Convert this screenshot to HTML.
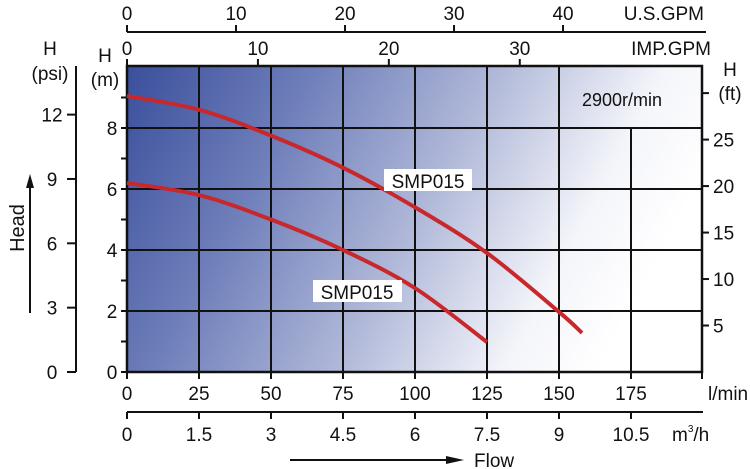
<!DOCTYPE html>
<html><head><meta charset="utf-8"><style>
body{margin:0;background:#fff;}
svg{display:block;font-family:"Liberation Sans",sans-serif;}
</style></head><body>
<svg id="chart" width="750" height="469" viewBox="0 0 750 469">
<defs>
<linearGradient id="bg" gradientUnits="userSpaceOnUse" x1="127" y1="66" x2="620" y2="330">
<stop offset="0" stop-color="#3a4f9c"/>
<stop offset="0.3" stop-color="#6f7fba"/>
<stop offset="0.6" stop-color="#b3bbda"/>
<stop offset="0.85" stop-color="#f4f5fa"/>
<stop offset="1" stop-color="#ffffff"/>
</linearGradient>
</defs>
<rect x="127" y="66" width="575" height="306" fill="url(#bg)"/>
<g id="grid"></g>
<g id="axes"></g>
<g id="curves"></g>
<g id="labels"></g>
</svg>
<script>
const flowTicks=[0,25,50,75,100,125,150,175];
const m3hTicks=[0,1.5,3,4.5,6,7.5,9,10.5];
const mTicks=[0,2,4,6,8];
const psiTicks=[0,3,6,9,12];
const ftTicks=[5,10,15,20,25];
const usTicks=[0,10,20,30,40];
const impTicks=[0,10,20,30];
const upperFlow=[0,25,50,75,100,125,150,158];
const upperHead=[9.05,8.6,7.75,6.7,5.4,3.9,1.97,1.28];
const lowerFlow=[0,25,50,75,100,125];
const lowerHead=[6.2,5.8,5.0,4.0,2.75,0.98];
const NS='http://www.w3.org/2000/svg';
const X=f=>127+f*72/25;
const Y=h=>372-h*30.5;
function el(p,t,a,txt){const e=document.createElementNS(NS,t);for(const k in a)e.setAttribute(k,a[k]);if(txt!==undefined)e.textContent=txt;p.appendChild(e);return e;}
const grid=document.getElementById('grid'),axes=document.getElementById('axes'),curves=document.getElementById('curves'),labels=document.getElementById('labels');
flowTicks.forEach(f=>{if(f===0)return;const top=f===175?Y(8):66;
const l=el(grid,'line',{x1:X(f),x2:X(f),y1:top,y2:372,stroke:'#111','stroke-width':2});

});
mTicks.forEach(h=>{if(h===0)return;
const l=el(grid,'line',{x1:127,x2:702,y1:Y(h),y2:Y(h),stroke:'#111','stroke-width':2});

});
el(axes,'path',{d:'M127,66 H702 V372 H127 Z',fill:'none',stroke:'#111','stroke-width':2.5});
for(let h=0;h<=9;h++){el(axes,'line',{x1:121,x2:127,y1:Y(h),y2:Y(h),stroke:'#111','stroke-width':2});}
mTicks.forEach(h=>{const t=el(axes,'text',{x:112,y:Y(h)+7,'font-size':19,'text-anchor':'middle',fill:'#111'},String(h));

});
el(axes,'line',{x1:76,x2:76,y1:66,y2:372,stroke:'#111','stroke-width':2});
psiTicks.forEach(p=>{const y=Y(p/1.422);el(axes,'line',{x1:67,x2:76,y1:y,y2:y,stroke:'#111','stroke-width':2});
const t=el(axes,'text',{x:52,y:y+7,'font-size':19,'text-anchor':'middle',fill:'#111'},String(p));

});
[5,10,15,20,25,30].forEach(f=>{const y=Y(f*0.3048);el(axes,'line',{x1:702,x2:709,y1:y,y2:y,stroke:'#111','stroke-width':2});});
ftTicks.forEach(f=>{const y=Y(f*0.3048);const t=el(axes,'text',{x:713,y:y+7,'font-size':19,fill:'#111'},String(f));

});
flowTicks.forEach(f=>{el(axes,'line',{x1:X(f),x2:X(f),y1:372,y2:379,stroke:'#111','stroke-width':2});
const t=el(axes,'text',{x:X(f),y:400,'font-size':19,'text-anchor':'middle',fill:'#111'},String(f));

});
el(axes,'line',{x1:702,x2:702,y1:372,y2:379,stroke:'#111','stroke-width':2});
el(axes,'line',{x1:127,x2:703,y1:412,y2:412,stroke:'#111','stroke-width':2});
m3hTicks.forEach(v=>{const x=X(v*1000/60);el(axes,'line',{x1:x,x2:x,y1:412,y2:419,stroke:'#111','stroke-width':2});
const t=el(axes,'text',{x:x,y:441,'font-size':19,'text-anchor':'middle',fill:'#111'},String(v));

});
el(axes,'line',{x1:127,x2:706,y1:32,y2:32,stroke:'#111','stroke-width':2});
usTicks.forEach(v=>{const x=X(v*3.785);el(axes,'line',{x1:x,x2:x,y1:25,y2:32,stroke:'#111','stroke-width':2});
const t=el(axes,'text',{x:x,y:20,'font-size':19,'text-anchor':'middle',fill:'#111'},String(v));

});
impTicks.forEach(v=>{const x=X(v*4.546);el(axes,'line',{x1:x,x2:x,y1:59,y2:66,stroke:'#111','stroke-width':2});
const t=el(axes,'text',{x:x,y:55,'font-size':19,'text-anchor':'middle',fill:'#111'},String(v));

});
function smooth(xs,ys){const p=xs.map((x,i)=>[X(x),Y(ys[i])]);let d='M'+p[0][0]+','+p[0][1];
for(let i=0;i<p.length-1;i++){const p0=p[i-1]||p[i],p1=p[i],p2=p[i+1],p3=p[i+2]||p2;
d+=' C'+(p1[0]+(p2[0]-p0[0])/6)+','+(p1[1]+(p2[1]-p0[1])/6)+' '+(p2[0]-(p3[0]-p1[0])/6)+','+(p2[1]-(p3[1]-p1[1])/6)+' '+p2[0]+','+p2[1];}return d;}
const c1=el(curves,'path',{d:smooth(upperFlow,upperHead),fill:'none',stroke:'#c8282c','stroke-width':4});


const c2=el(curves,'path',{d:smooth(lowerFlow,lowerHead),fill:'none',stroke:'#c8282c','stroke-width':4});


</script>
<div style="position:absolute;left:0;top:0;width:750px;height:469px;pointer-events:none">
<svg width="750" height="469" style="font-family:'Liberation Sans',sans-serif">
<rect x="384" y="169" width="88" height="22" fill="#fff"/>
<text x="428" y="188" font-size="19" text-anchor="middle" fill="#111">SMP015</text>
<rect x="313" y="280" width="89" height="22" fill="#fff"/>
<text x="357" y="299" font-size="19" text-anchor="middle" fill="#111">SMP015</text>
<text x="622" y="106" font-size="18" text-anchor="middle" fill="#111">2900r/min</text>
<text x="704" y="20" font-size="19" text-anchor="end" fill="#111">U.S.GPM</text>
<text x="711" y="55" font-size="19" text-anchor="end" fill="#111">IMP.GPM</text>
<text x="708" y="400" font-size="19" fill="#111">l/min</text>
<text x="672" y="441" font-size="19" fill="#111">m<tspan font-size="10" dy="-9">3</tspan><tspan dy="9">/h</tspan></text>
<text x="50" y="55" font-size="19" text-anchor="middle" fill="#111">H</text>
<text x="50" y="80" font-size="19" text-anchor="middle" fill="#111">(psi)</text>
<text x="105" y="62" font-size="19" text-anchor="middle" fill="#111">H</text>
<text x="105" y="86" font-size="19" text-anchor="middle" fill="#111">(m)</text>
<text x="730" y="76" font-size="19" text-anchor="middle" fill="#111">H</text>
<text x="730" y="100" font-size="19" text-anchor="middle" fill="#111">(ft)</text>
<text transform="translate(24,228) rotate(-90)" font-size="20" text-anchor="middle" fill="#111">Head</text>
<line x1="30" y1="313" x2="30" y2="185" stroke="#111" stroke-width="2"/>
<polygon points="30,174 26,188 34,188" fill="#111"/>
<line x1="290" y1="460" x2="448" y2="460" stroke="#111" stroke-width="2"/>
<polygon points="464,460 446,456 446,464" fill="#111"/>
<text x="474" y="467" font-size="19" fill="#111">Flow</text>
</svg></div>
</body></html>
